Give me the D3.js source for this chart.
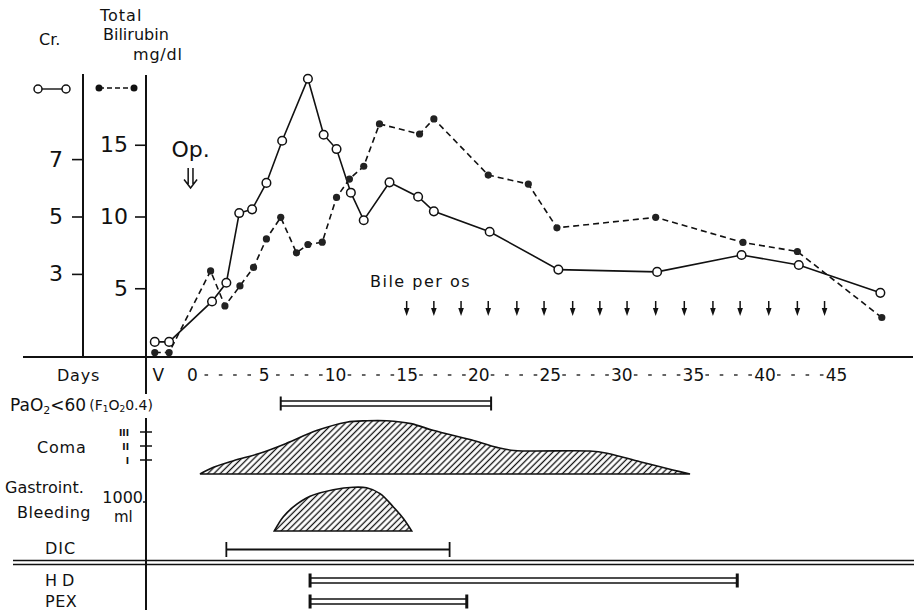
<!DOCTYPE html>
<html><head><meta charset="utf-8">
<script src="https://cdn.jsdelivr.net/npm/d3@7"></script>
<style>
body{margin:0;background:#fff}
svg{display:block}
text{font-family:"DejaVu Sans",sans-serif;fill:#111}
</style>
</head><body>
<svg id="chart" width="914" height="610"></svg>
<script>
// ---------- data ----------
const crDays   = [-2.6,-1.6,1.4,2.4,3.3,4.2,5.2,6.3,8.1,9.2,10.1,11.1,12.0,13.8,15.8,16.9,20.8,25.6,32.5,38.4,42.4,48.1];
const crValues = [0.63,0.63,2.04,2.69,5.12,5.25,6.17,7.64,9.8,7.85,7.35,5.83,4.87,6.19,5.69,5.18,4.47,3.15,3.07,3.66,3.31,2.34];

const biliDays   = [-2.6,-1.6,1.3,2.3,3.35,4.3,5.2,6.2,7.3,8.1,9.1,10.1,11.0,12.0,13.1,15.9,16.9,20.7,23.5,25.5,32.4,38.5,42.3,48.2];
const biliValues = [0.52,0.52,6.21,3.77,5.16,6.45,8.44,9.94,7.47,8.05,8.21,11.33,12.61,13.5,16.45,15.75,16.8,12.89,12.26,9.21,9.94,8.19,7.56,2.96];

const crTicks   = [3,5,7];
const biliTicks = [5,10,15];
const dayMajorTicks = [0,5,10,15,20,25,30,35,40,45];
const dayMinorTicks = d3.range(1,45).filter(d => d % 5 !== 0);
const preOpDay = -2.35;           // "V" column
const opDay = -0.1;               // "Op." marker

const bileArrowDays = [15.0,16.9,18.8,20.7,22.7,24.6,26.6,28.5,30.4,32.4,34.4,36.4,38.3,40.3,42.3,44.2];

const comaDays   = [0.56,1.5,2.9,4.75,6.6,8.7,10.8,12.2,13.6,15.3,16.9,19.5,21.3,22.5,27.8,29.0,31.3,33.6,34.8];
const comaGrades = [0,0.48,0.95,1.48,2.19,3.1,3.7,3.8,3.8,3.6,3.1,2.45,1.9,1.68,1.64,1.48,0.88,0.29,0];
const comaTicks  = [1,2,3];
const comaTickLabels = ["I","II","III"];

const bleedDays   = [5.75,6.38,7.08,8.25,9.87,11.27,12.2,13.14,14.07,14.77,15.35];
const bleedVolume = [0,490,830,1195,1420,1510,1490,1290,830,430,0];
const bleedTicks  = [1000];

const pao2Span = [6.2,20.9];
const dicSpan  = [2.4,18.0];
const hdSpan   = [8.25,38.1];
const pexSpan  = [8.25,19.2];

// ---------- setup ----------
const svg = d3.select("#chart");
const ink = "#111";

const x     = d3.scaleLinear().domain([0,45]).range([192,836]);
const yBili = d3.scaleLinear().domain([0,20]).range([360,73]);
const yCr   = d3.scaleLinear().domain([0,10]).range([360,73]);
const yComa = d3.scaleLinear().domain([0,3]).range([474,432]);
const yBleed= d3.scaleLinear().domain([0,1000]).range([531,502]);

const baseY = 357;
const axCrX = 83, axBiliX = 146;

const defs = svg.append("defs");
const pat = defs.append("pattern").attr("id","hatch").attr("patternUnits","userSpaceOnUse")
  .attr("width",4.4).attr("height",4.4).attr("patternTransform","rotate(45)");
pat.append("line").attr("x1",2.2).attr("y1",-1).attr("x2",2.2).attr("y2",6)
  .attr("stroke",ink).attr("stroke-width",1.3);

function txt(xp, yp, s, size, anchor, ls){
  return svg.append("text").attr("x",xp).attr("y",yp).attr("font-size",size)
    .attr("text-anchor",anchor||"start").attr("letter-spacing",ls||0).text(s);
}
function hline(x1,x2,yv,w){
  svg.append("line").attr("x1",x1).attr("x2",x2).attr("y1",yv).attr("y2",yv)
    .attr("stroke",ink).attr("stroke-width",w||1.5);
}
function vline(xv,y1,y2,w){
  svg.append("line").attr("x1",xv).attr("x2",xv).attr("y1",y1).attr("y2",y2)
    .attr("stroke",ink).attr("stroke-width",w||1.5);
}

// ---------- header labels ----------
txt(39,45,"Cr.",16);
txt(100,21,"Total",16,"start",1);
txt(103,40,"Bilirubin",16);
txt(133,60,"mg/dl",16,"start",0.8);

// legend
hline(38,66,89,1.4);
svg.selectAll(".lgo").data([38,66]).join("circle").attr("cx",d=>d).attr("cy",89).attr("r",4)
  .attr("fill","#fff").attr("stroke",ink).attr("stroke-width",1.5);
svg.append("line").attr("x1",99).attr("x2",134).attr("y1",88).attr("y2",88)
  .attr("stroke",ink).attr("stroke-width",1.4).attr("stroke-dasharray","5,3");
svg.selectAll(".lgf").data([99,134]).join("circle").attr("cx",d=>d).attr("cy",88).attr("r",3.5).attr("fill",ink);

// ---------- axes lines ----------
vline(axCrX,74,baseY,2);
vline(axBiliX,75,394,2);
vline(axBiliX,418,610,2);
hline(23,913,baseY,1.8);

// Cr axis
const gCr = svg.append("g").attr("transform",`translate(${axCrX},0)`)
  .call(d3.axisLeft(yCr).tickValues(crTicks).tickSize(11).tickPadding(9));
gCr.select(".domain").remove();
gCr.selectAll("line").attr("stroke",ink).attr("stroke-width",1.6);
gCr.selectAll("text").attr("font-size",22).attr("font-family","DejaVu Sans").attr("fill",ink);

// Bilirubin axis
const gB = svg.append("g").attr("transform",`translate(${axBiliX},0)`)
  .call(d3.axisLeft(yBili).tickValues(biliTicks).tickSize(11).tickPadding(7));
gB.select(".domain").remove();
gB.selectAll("line").attr("stroke",ink).attr("stroke-width",1.6);
gB.selectAll("text").attr("font-size",22).attr("font-family","DejaVu Sans").attr("fill",ink);

// Day axis
const gX = svg.append("g").attr("transform",`translate(0,${baseY})`)
  .call(d3.axisBottom(x).tickValues(dayMajorTicks).tickSize(0).tickPadding(12));
gX.select(".domain").remove();
gX.selectAll("text").attr("font-size",17).attr("font-family","DejaVu Sans").attr("fill",ink);
svg.selectAll(".minor").data(dayMinorTicks).join("line").attr("class","minor")
  .attr("x1",d=>x(d)-1.8).attr("x2",d=>x(d)+1.8).attr("y1",375).attr("y2",375)
  .attr("stroke",ink).attr("stroke-width",1.3);
txt(57,381,"Days",16,"start",0.8);
txt(x(preOpDay),381,"V",17,"middle");

// ---------- Op marker ----------
const opX = x(opDay);
txt(opX,157,"Op.",22,"middle");
svg.append("path")
  .attr("d",`M${opX-2.4},168 V184 M${opX+2.4},168 V184 M${opX-6.5},179.5 L${opX},188 L${opX+6.5},179.5`)
  .attr("fill","none").attr("stroke",ink).attr("stroke-width",1.5);

// ---------- series ----------
const crData = crDays.map((d,i)=>({day:d,v:crValues[i]}));
const biliData = biliDays.map((d,i)=>({day:d,v:biliValues[i]}));

svg.append("path").datum(biliData)
  .attr("d",d3.line().x(d=>x(d.day)).y(d=>yBili(d.v)))
  .attr("fill","none").attr("stroke",ink).attr("stroke-width",1.6).attr("stroke-dasharray","6,4");
svg.append("path").datum(crData)
  .attr("d",d3.line().x(d=>x(d.day)).y(d=>yCr(d.v)))
  .attr("fill","none").attr("stroke",ink).attr("stroke-width",1.6);
svg.selectAll(".bdot").data(biliData).join("circle").attr("class","bdot")
  .attr("cx",d=>x(d.day)).attr("cy",d=>yBili(d.v)).attr("r",3.6).attr("fill","#222");
svg.selectAll(".cdot").data(crData).join("circle").attr("class","cdot")
  .attr("cx",d=>x(d.day)).attr("cy",d=>yCr(d.v)).attr("r",4.3)
  .attr("fill","#fff").attr("stroke",ink).attr("stroke-width",1.5);

// ---------- bile per os ----------
txt(370,287,"Bile per os",16,"start",1.5);
const arr = svg.selectAll(".arr").data(bileArrowDays).join("g").attr("class","arr")
  .attr("transform",d=>`translate(${x(d)},0)`);
arr.append("line").attr("x1",0).attr("x2",0).attr("y1",301).attr("y2",310).attr("stroke",ink).attr("stroke-width",1.5);
arr.append("path").attr("d","M-2.8,308 L2.8,308 L0,316 Z").attr("fill",ink);

// ---------- lower panel ----------
// PaO2 label
const pt = svg.append("text").attr("x",10).attr("y",411).attr("font-size",17);
pt.append("tspan").text("PaO");
pt.append("tspan").attr("font-size",11).attr("dy",3).text("2");
pt.append("tspan").attr("dy",-3).text("<60");
pt.append("tspan").attr("font-size",14).attr("dx",3).attr("dy",-1).text("(F");
pt.append("tspan").attr("font-size",9).attr("dy",2).text("1");
pt.append("tspan").attr("font-size",14).attr("dy",-2).text("O");
pt.append("tspan").attr("font-size",9).attr("dy",2).text("2");
pt.append("tspan").attr("font-size",14).attr("dy",-2).text("0.4)");

function doubleBar(span, yc, capW){
  const x1 = x(span[0]), x2 = x(span[1]);
  hline(x1,x2,yc-2.5,1.4);
  hline(x1,x2,yc+2.5,1.4);
  vline(x1,yc-7,yc+7,capW);
  vline(x2,yc-7,yc+7,capW);
}
doubleBar(pao2Span,403.5,2);

// Coma
txt(37,453,"Coma",16,"start",0.8);
svg.selectAll(".ctick").data(comaTicks).join("line").attr("class","ctick")
  .attr("x1",axBiliX-6).attr("x2",axBiliX+6).attr("y1",d=>yComa(d)).attr("y2",d=>yComa(d))
  .attr("stroke",ink).attr("stroke-width",1.5);
svg.selectAll(".clab").data(comaTicks).join("text").attr("class","clab")
  .attr("x",axBiliX-17).attr("y",d=>yComa(d)+3.5).attr("text-anchor","end")
  .attr("font-size",9).attr("font-weight","bold").text((d,i)=>comaTickLabels[i]);
const comaData = comaDays.map((d,i)=>({day:d,g:comaGrades[i]}));
svg.append("path").datum(comaData)
  .attr("d",d3.area().x(d=>x(d.day)).y0(yComa(0)).y1(d=>yComa(d.g)).curve(d3.curveCatmullRom))
  .attr("fill","url(#hatch)").attr("stroke",ink).attr("stroke-width",1.6);

// Bleeding
txt(5,493,"Gastroint.",16);
txt(17,518,"Bleeding",16,"start",0.5);
svg.selectAll(".btick").data(bleedTicks).join("line").attr("class","btick")
  .attr("x1",axBiliX-3).attr("x2",axBiliX).attr("y1",d=>yBleed(d)).attr("y2",d=>yBleed(d))
  .attr("stroke",ink).attr("stroke-width",1.5);
svg.selectAll(".blab").data(bleedTicks).join("text").attr("class","blab")
  .attr("x",axBiliX-3).attr("y",d=>yBleed(d)+1).attr("text-anchor","end").attr("font-size",16).text(d=>d);
txt(114,522,"ml",15);
const bleedData = bleedDays.map((d,i)=>({day:d,v:bleedVolume[i]}));
svg.append("path").datum(bleedData)
  .attr("d",d3.area().x(d=>x(d.day)).y0(yBleed(0)).y1(d=>yBleed(d.v)).curve(d3.curveCatmullRom))
  .attr("fill","url(#hatch)").attr("stroke",ink).attr("stroke-width",1.6);

// DIC
txt(45,554,"DIC",16,"start",1);
hline(x(dicSpan[0]),x(dicSpan[1]),549.5,1.8);
vline(x(dicSpan[0]),542,557,1.8);
vline(x(dicSpan[1]),542,557,1.8);

// separator
hline(13,914,560.5,1.5);
hline(13,914,564.5,1.5);

// HD / PEX
txt(45,586,"H D",16);
txt(45,607,"PEX",16,"start",0.5);
doubleBar(hdSpan,580.5,3);
doubleBar(pexSpan,601.5,3);
</script>
</body></html>
